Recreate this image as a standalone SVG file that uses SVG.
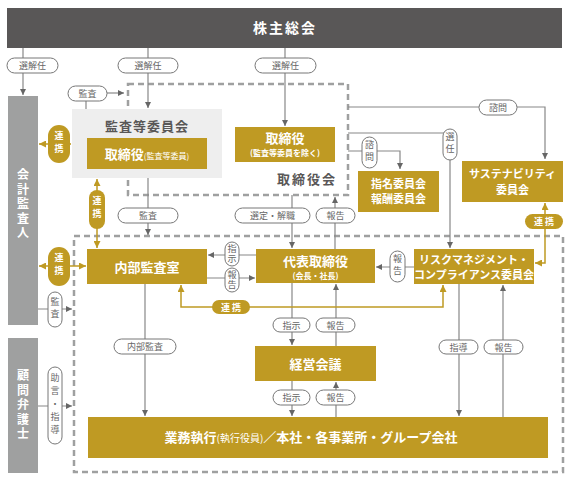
<svg xmlns="http://www.w3.org/2000/svg" width="570" height="480" viewBox="0 0 570 480">
<style>
text{font-family:"Noto Sans CJK JP","Noto Sans",sans-serif}
.gold{fill:#bf9a23}
.wt{fill:#fff;font-weight:bold;text-anchor:middle}
.pill{fill:#fff;stroke:#777;stroke-width:1}
.pt{fill:#666;font-size:9px;text-anchor:middle}
.gpt{fill:#fff;font-size:9px;text-anchor:middle;font-weight:bold}
.vt{writing-mode:vertical-rl;text-anchor:middle}
.ln{stroke:#888;stroke-width:1.2;fill:none}
.gln{stroke:#bf9a23;stroke-width:1.5;fill:none}
.dash{fill:none;stroke:#9fa0a0;stroke-width:2.5;stroke-dasharray:6 4}
.side{fill:#9fa0a0}
</style>
<defs>
<marker id="ah" viewBox="0 0 6 6" refX="6" refY="3" markerWidth="6" markerHeight="6" markerUnits="userSpaceOnUse" orient="auto-start-reverse"><path d="M0,0 L6,3 L0,6 z" fill="#666"/></marker>
<marker id="gah" viewBox="0 0 6 6" refX="6" refY="3" markerWidth="7" markerHeight="7" markerUnits="userSpaceOnUse" orient="auto-start-reverse"><path d="M0,0 L6,3 L0,6 z" fill="#bf9a23"/></marker>
</defs>
<rect width="570" height="480" fill="#fff"/>

<!-- dashed frames -->
<rect class="dash" x="128" y="84" width="220" height="111"/>
<rect class="dash" x="74" y="236" width="489" height="236"/>

<!-- connectors -->
<g id="connectors">
<line class="ln" x1="23" y1="48" x2="23" y2="95" marker-end="url(#ah)"/>
<line class="ln" x1="148" y1="48" x2="148" y2="108" marker-end="url(#ah)"/>
<line class="ln" x1="285" y1="48" x2="285" y2="126" marker-end="url(#ah)"/>
<line class="ln" x1="86" y1="101" x2="86" y2="110"/>
<line class="ln" x1="107" y1="93" x2="124" y2="93" marker-end="url(#ah)"/>
<polyline class="ln" points="348,107 545,107 545,159" marker-end="url(#ah)"/>
<polyline class="ln" points="348,133 450,133 450,248" marker-end="url(#ah)"/>
<polyline class="ln" points="348,151 400,151 400,169" marker-end="url(#ah)"/>
<line class="ln" x1="148" y1="178" x2="148" y2="235" marker-end="url(#ah)"/>
<line class="ln" x1="292" y1="195" x2="292" y2="248" marker-end="url(#ah)"/>
<line class="ln" x1="335" y1="249" x2="335" y2="197" marker-end="url(#ah)"/>
<line class="ln" x1="256" y1="255" x2="208" y2="255" marker-end="url(#ah)"/>
<line class="ln" x1="207" y1="278" x2="255" y2="278" marker-end="url(#ah)"/>
<line class="ln" x1="414" y1="267" x2="376" y2="267" marker-end="url(#ah)"/>
<line class="ln" x1="292" y1="283" x2="292" y2="345" marker-end="url(#ah)"/>
<line class="ln" x1="336" y1="346" x2="336" y2="284" marker-end="url(#ah)"/>
<line class="ln" x1="292" y1="381" x2="292" y2="416" marker-end="url(#ah)"/>
<line class="ln" x1="336" y1="417" x2="336" y2="382" marker-end="url(#ah)"/>
<line class="ln" x1="145" y1="284" x2="145" y2="416" marker-end="url(#ah)"/>
<line class="ln" x1="459" y1="284" x2="459" y2="416" marker-end="url(#ah)"/>
<line class="ln" x1="503" y1="417" x2="503" y2="285" marker-end="url(#ah)"/>
<line class="ln" x1="38" y1="309" x2="72" y2="309" marker-end="url(#ah)"/>
<line class="ln" x1="38" y1="406" x2="72" y2="406" marker-end="url(#ah)"/>
<line class="gln" x1="39" y1="144" x2="71" y2="144" marker-start="url(#gah)" marker-end="url(#gah)"/>
<line class="gln" x1="39" y1="266" x2="86" y2="266" marker-start="url(#gah)" marker-end="url(#gah)"/>
<line class="gln" x1="97" y1="179" x2="97" y2="248" marker-start="url(#gah)" marker-end="url(#gah)"/>
<polyline class="gln" points="181,285 181,307 443,307 443,285" marker-start="url(#gah)" marker-end="url(#gah)"/>
<polyline class="gln" points="545,203 545,263 535,263" marker-start="url(#gah)" marker-end="url(#gah)"/>

<!-- pills -->
<rect class="pill" x="7" y="58" width="51" height="15" rx="7.5"/><text class="pt" x="32.5" y="69">選解任</text>
<rect class="pill" x="118" y="58" width="60" height="15" rx="7.5"/><text class="pt" x="148" y="69">選解任</text>
<rect class="pill" x="255" y="58" width="61" height="15" rx="7.5"/><text class="pt" x="285.5" y="69">選解任</text>
<rect class="pill" x="68" y="86" width="39" height="15" rx="7.5"/><text class="pt" x="87.5" y="97">監査</text>
<rect class="pill" x="479" y="100" width="38" height="15" rx="7.5"/><text class="pt" x="498" y="111">諮問</text>
<rect class="pill" x="443" y="129" width="14" height="31" rx="7"/><text class="pt vt" x="450" y="144.5" letter-spacing="3">選任</text>
<rect class="pill" x="362" y="137" width="15" height="31" rx="7.5"/><text class="pt vt" x="369.5" y="152.5" letter-spacing="3">諮問</text>
<rect class="pill" x="118" y="208" width="60" height="15" rx="7.5"/><text class="pt" x="148" y="219">監査</text>
<rect class="pill" x="235" y="208" width="75" height="15" rx="7.5"/><text class="pt" x="272.5" y="219">選定・解職</text>
<rect class="pill" x="316" y="208" width="39" height="15" rx="7.5"/><text class="pt" x="335.5" y="219">報告</text>
<rect class="pill" x="225" y="242" width="14" height="24" rx="7"/><text class="pt vt" x="232" y="254" letter-spacing="1">指示</text>
<rect class="pill" x="225" y="268" width="14" height="24" rx="7"/><text class="pt vt" x="232" y="280" letter-spacing="1">報告</text>
<rect class="pill" x="390" y="251" width="15" height="31" rx="7.5"/><text class="pt vt" x="397.5" y="266.5" letter-spacing="3">報告</text>
<rect class="pill" x="273" y="318" width="37" height="14" rx="7"/><text class="pt" x="291.5" y="328.5">指示</text>
<rect class="pill" x="316" y="318" width="39" height="14" rx="7"/><text class="pt" x="335.5" y="328.5">報告</text>
<rect class="pill" x="273" y="390" width="37" height="15" rx="7.5"/><text class="pt" x="291.5" y="401">指示</text>
<rect class="pill" x="316" y="390" width="39" height="15" rx="7.5"/><text class="pt" x="335.5" y="401">報告</text>
<rect class="pill" x="114" y="339" width="62" height="15" rx="7.5"/><text class="pt" x="145" y="350">内部監査</text>
<rect class="pill" x="439" y="340" width="39" height="14" rx="7"/><text class="pt" x="458.5" y="350.5">指導</text>
<rect class="pill" x="484" y="340" width="39" height="14" rx="7"/><text class="pt" x="503.5" y="350.5">報告</text>
<rect class="pill" x="48" y="292" width="14" height="35" rx="7"/><text class="pt vt" x="55" y="309.5" letter-spacing="3">監査</text>
<rect class="pill" x="48" y="367" width="14" height="77" rx="7"/><text class="pt vt" x="55" y="405.5" letter-spacing="4">助言・指導</text>
<rect class="gold" x="48" y="125" width="22" height="38" rx="11"/><text class="gpt vt" x="59" y="144" letter-spacing="4">連携</text>
<rect class="gold" x="48" y="247" width="22" height="39" rx="11"/><text class="gpt vt" x="59" y="266.5" letter-spacing="4">連携</text>
<rect class="gold" x="89" y="190" width="16" height="39" rx="8"/><text class="gpt vt" x="97" y="209.5" letter-spacing="4">連携</text>
<rect class="gold" x="212" y="300" width="38" height="14" rx="7"/><text class="gpt" x="231" y="310.5">連 携</text>
<rect class="gold" x="525" y="214" width="38" height="15" rx="7.5"/><text class="gpt" x="544" y="225">連 携</text>
</g>

<g id="shareholders">
<rect x="7" y="8" width="555" height="40" fill="#595757"/>
<text class="wt" x="285" y="33" font-size="14" letter-spacing="2">株主総会</text>
</g>

<g id="auditor">
<rect class="side" x="8" y="96" width="30" height="229"/>
<text class="wt vt" x="23" y="205" font-size="12" letter-spacing="2.5">会計監査人</text>
</g>

<g id="lawyer">
<rect class="side" x="8" y="338" width="30" height="135"/>
<text class="wt vt" x="23" y="406" font-size="12" letter-spacing="2.5">顧問弁護士</text>
</g>

<g id="audit-committee">
<rect x="72" y="109" width="150" height="69" fill="#eeeeee"/>
<text x="147" y="131" font-size="13" font-weight="bold" fill="#595757" text-anchor="middle" letter-spacing="1">監査等委員会</text>
<rect class="gold" x="87" y="138" width="120" height="31"/>
<text class="wt" x="147" y="158.5" font-size="13">取締役<tspan font-size="8" font-weight="normal">(監査等委員)</tspan></text>
</g>

<g id="directors">
<rect class="gold" x="235" y="127" width="100" height="35"/>
<text class="wt" x="285" y="143" font-size="13">取締役</text>
<text class="wt" x="285" y="156" font-size="8" font-weight="normal">(監査等委員を除く)</text>
</g>

<g id="board">
<text x="307" y="184" font-size="13" font-weight="bold" fill="#595757" text-anchor="middle" letter-spacing="2">取締役会</text>
</g>

<g id="nomination">
<rect class="gold" x="358" y="171" width="81" height="41"/>
<text class="wt" x="398.5" y="188" font-size="11">指名委員会</text>
<text class="wt" x="398.5" y="203" font-size="11">報酬委員会</text>
</g>

<g id="sustainability">
<rect class="gold" x="462" y="161" width="101" height="41"/>
<text class="wt" x="512.5" y="178" font-size="11">サステナビリティ</text>
<text class="wt" x="512.5" y="194" font-size="11">委員会</text>
</g>

<g id="internal-audit">
<rect class="gold" x="87" y="249" width="120" height="35"/>
<text class="wt" x="147" y="271.5" font-size="13">内部監査室</text>
</g>

<g id="president">
<rect class="gold" x="256" y="249" width="119" height="34"/>
<text class="wt" x="315.5" y="266" font-size="13">代表取締役</text>
<text class="wt" x="315.5" y="278.5" font-size="8" font-weight="normal">(会長・社長)</text>
</g>

<g id="risk">
<rect class="gold" x="414" y="249" width="120" height="35"/>
<text class="wt" x="474" y="263.5" font-size="11">リスクマネジメント・</text>
<text class="wt" x="474" y="278.5" font-size="11">コンプライアンス委員会</text>
</g>

<g id="management">
<rect class="gold" x="255" y="346" width="121" height="35"/>
<text class="wt" x="315.5" y="368.5" font-size="13">経営会議</text>
</g>

<g id="operations">
<rect class="gold" x="88" y="417" width="460" height="41"/>
<text class="wt" x="311" y="442" font-size="13">業務執行<tspan font-size="10" font-weight="normal">(執行役員)</tspan>／本社・各事業所・グループ会社</text>
</g>
</svg>
